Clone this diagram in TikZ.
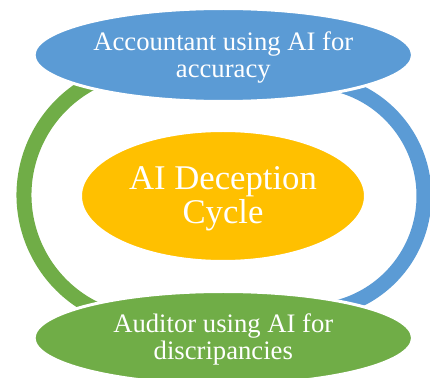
\documentclass[tikz,border=0pt]{standalone}
\usepackage{fontspec}
\setmainfont{Liberation Serif}
\usetikzlibrary{shapes.geometric,calc}
\definecolor{cycleblue}{HTML}{5B9BD5}
\definecolor{cyclegold}{HTML}{FFC000}
\definecolor{cyclegreen}{HTML}{70AD47}
\begin{document}
\begin{tikzpicture}[x=0.75pt,y=-0.75pt,
  bubble/.style={ellipse,draw=white,line width=2.25pt,inner sep=0pt},
  roleband/.style={line width=11.25pt},
  rolelabel/.style={text=white,align=center,inner sep=0pt,
    font=\fontsize{20}{20.5}\selectfont},
  corelabel/.style={text=white,align=center,inner sep=0pt,
    font=\fontsize{26}{25.5}\selectfont}]
\useasboundingbox (0,0) rectangle (430,378);
% curved bands linking the two roles
\coordinate (lc) at (151,195);
\coordinate (rc) at (308.7,196);
\draw[roleband,cyclegreen] ($(lc)+(112:127)$) arc[start angle=112,end angle=248,radius=127];
\draw[roleband,cycleblue] ($(rc)+(-80:115.3)$) arc[start angle=-80,end angle=80,radius=115.3];
% ellipses
\node[bubble,fill=cycleblue,minimum width=283.8pt,minimum height=69.75pt] (acct) at (223.3,55) {};
\node[bubble,fill=cyclegold,minimum width=213.75pt,minimum height=98.25pt] (core) at (223,196) {};
\node[bubble,fill=cyclegreen,minimum width=283.8pt,minimum height=69.75pt] (audit) at (223.3,338) {};
% labels
\node[rolelabel] (acctlabel) at ($(acct.center)+(0,2.4)$) {Accountant using AI for\\accuracy};
\node[corelabel] (corelabel) at ($(core.center)+(0,2.3)$) {AI Deception\\Cycle};
\node[rolelabel,font=\fontsize{20}{20.7}\selectfont] (auditlabel) at ($(audit.center)+(0,1.4)$) {Auditor using AI for\\discripancies};
\end{tikzpicture}
\end{document}
